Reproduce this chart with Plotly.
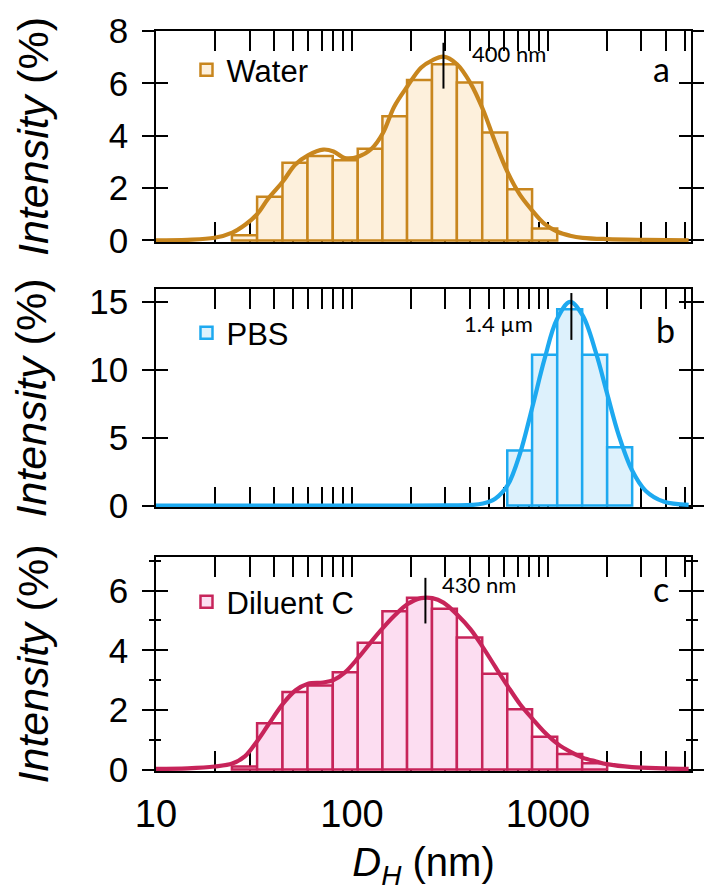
import math
import plotly.graph_objects as go

# ---------------- data ----------------
water_edges = [24.4, 32.8, 44.2, 59.3, 79.8, 107, 143, 191, 256, 343, 462, 620, 830, 1115]
water_heights = [0.2, 1.67, 2.97, 3.22, 3.06, 3.5, 4.74, 6.13, 6.73, 6.03, 4.12, 1.95, 0.45]

pbs_edges = [620, 830, 1115, 1495, 2005, 2690]
pbs_heights = [4.05, 11.1, 14.45, 11.1, 4.3]

dil_edges = [24.4, 32.8, 44.2, 59.3, 79.8, 107, 143, 191, 256, 343, 462, 620, 830, 1115, 1495, 2005]
dil_heights = [0.1, 1.55, 2.6, 2.82, 3.26, 4.25, 5.31, 5.76, 5.39, 4.43, 3.21, 2.02, 1.1, 0.52, 0.21]

water_fit_x = [10, 14.5, 19.9, 24.5, 28.5, 32.8, 37.4, 44.4, 51.4, 59.6, 71.3, 80.5, 91.8, 107.7,
               125.9, 143.9, 164, 192.3, 225, 257, 293, 343.6, 403, 466, 538, 623, 719, 834, 961,
               1125, 1297, 1503, 2000, 3148, 5224]
water_fit_y = [0.0, 0.02, 0.1, 0.3, 0.6, 1.0, 1.6, 2.25, 2.9, 3.25, 3.47, 3.4, 3.15, 3.2,
               3.5, 4.1, 5.1, 5.9, 6.6, 6.88, 7.02, 6.73, 6.0, 5.0, 3.75, 2.6, 1.75, 1.13, 0.63,
               0.32, 0.18, 0.1, 0.05, 0.02, 0.0]

pbs_fit_x = [10, 100, 200, 300, 403, 466, 538, 623, 719, 834, 961, 1110, 1297, 1503, 1762, 2000,
             2296, 2686, 3148, 3890, 5224]
pbs_fit_y = [0.0, 0.0, 0.0, 0.01, 0.05, 0.15, 0.5, 1.5, 3.8, 7.3, 10.8, 13.7, 15.0, 14.0, 11.2, 8.3,
             5.2, 2.6, 1.1, 0.3, 0.05]

dil_fit_x = [10, 14.5, 19.9, 24.5, 28.5, 32.8, 37.4, 44.4, 51.4, 59.6, 71.3, 80.5, 91.8, 107.7,
             125.9, 143.9, 164, 192.3, 225, 257, 293, 343.6, 403, 466, 538, 623, 719, 834, 961,
             1125, 1297, 1503, 1762, 2000, 2686, 3890, 5224]
dil_fit_y = [0.02, 0.04, 0.1, 0.2, 0.45, 0.95, 1.5, 2.2, 2.65, 2.88, 2.92, 3.0, 3.25, 3.75,
             4.3, 4.75, 5.15, 5.55, 5.75, 5.75, 5.6, 5.2, 4.7, 4.1, 3.45, 2.8, 2.2, 1.7, 1.25,
             0.85, 0.6, 0.4, 0.27, 0.18, 0.08, 0.04, 0.02]

peak_x = [293, 1317, 237]
peak_y_low = [5.8, 12.2, 4.9]
peak_y_high = [7.55, 15.65, 6.43]
peak_labels = ["400 nm", "1.4 µm", "430 nm"]
peak_label_x = [400, 863, 281]
peak_label_y = [7.15, 13.4, 6.2]
peak_label_anchor = ["left", "right", "left"]

names = ["Water", "PBS", "Diluent C"]
panel_letters = ["a", "b", "c"]
line_colors = ["#C8861E", "#1DA9F0", "#C7245A"]
fill_colors = ["#FDF0DC", "#DDF1FC", "#FCDDF1"]

x_tickvals = [10, 100, 1000]
x_ticktext = ["10", "100", "1000"]
x_minor = [20, 30, 40, 50, 60, 70, 80, 90, 200, 300, 400, 500, 600, 700, 800, 900,
           2000, 3000, 4000, 5000]

y_ranges = [[-0.06, 8.0], [-0.1, 15.95], [-0.05, 7.13]]
y_dticks = [2, 5, 2]
y_minor = [None, None, 1]

# ---------------- figure ----------------
W, H = 704, 892
ML, MR, MT, MB = 156, 13, 31, 121
domains = [[0.7149, 1.0], [0.3568, 0.6514], [0.0, 0.2892]]

all_edges = [water_edges, pbs_edges, dil_edges]
all_heights = [water_heights, pbs_heights, dil_heights]
all_fx = [water_fit_x, pbs_fit_x, dil_fit_x]
all_fy = [water_fit_y, pbs_fit_y, dil_fit_y]

fig = go.Figure()
TICKF = "Liberation Sans, Arial, Helvetica, sans-serif"
GILL = "Lato, Open Sans, sans-serif"

legend_names = ["legend", "legend2", "legend3"]
legend_y = [0.9473, 0.5919, 0.2284]
letter_x = [0.944, 0.953, 0.944]
letter_y = [0.82, 0.812, 0.855]

for i in range(3):
    xa = "x" if i == 0 else f"x{i+1}"
    ya = "y" if i == 0 else f"y{i+1}"
    yo = f"y{i+4}"
    edges = all_edges[i]
    lo = edges[:-1]
    widths = [edges[k + 1] - edges[k] for k in range(len(edges) - 1)]
    fig.add_trace(go.Bar(
        x=lo, y=all_heights[i], width=widths, offset=0,
        marker=dict(color=fill_colors[i], line=dict(color=line_colors[i], width=2.5)),
        name=names[i], legend=legend_names[i], xaxis=xa, yaxis=ya, hoverinfo="skip"))
    fig.add_trace(go.Scatter(
        x=all_fx[i], y=all_fy[i], mode="lines",
        line=dict(color=line_colors[i], width=4.2, shape="spline", smoothing=1.0),
        showlegend=False, xaxis=xa, yaxis=ya, hoverinfo="skip"))
    fig.add_trace(go.Scatter(
        x=[peak_x[i], peak_x[i]], y=[peak_y_low[i], peak_y_high[i]], mode="lines",
        line=dict(color="black", width=2), showlegend=False, xaxis=xa, yaxis=yo, hoverinfo="skip"))
    # annotations on a log axis take log10 positions
    fig.add_annotation(x=math.log10(peak_label_x[i]), y=peak_label_y[i], xref=xa, yref=ya,
                       text=peak_labels[i], showarrow=False, xanchor=peak_label_anchor[i],
                       yanchor="middle", font=dict(family=GILL, size=22, color="black"))
    fig.add_annotation(x=letter_x[i], y=letter_y[i],
                       xref=f"{xa} domain", yref=f"{ya} domain", text=panel_letters[i],
                       showarrow=False, xanchor="center", yanchor="middle",
                       font=dict(family=GILL, size=34, color="black"))

    xaxis = dict(type="log", range=[1, 3.73], domain=[0, 1], anchor=ya, automargin=False,
                 tickvals=x_tickvals, ticktext=x_ticktext,
                 ticks="inside", ticklen=20, tickwidth=2, tickcolor="black",
                 mirror="allticks", showline=True, linecolor="black", linewidth=1.5,
                 showgrid=False, zeroline=False, layer="below traces",
                 minor=dict(tickvals=x_minor, ticks="inside", ticklen=7, tickwidth=2,
                            tickcolor="black", showgrid=False),
                 showticklabels=(i == 2),
                 tickfont=dict(family=TICKF, size=38, color="black"),
                 ticklabelstandoff=9)
    if i > 0:
        xaxis["matches"] = "x"
    if i == 2:
        xaxis["title"] = dict(text="<i>D</i><sub><i>H</i></sub> (nm)", standoff=14,
                              font=dict(family=TICKF, size=40, color="black"))
    yaxis = dict(domain=domains[i], anchor=xa, range=y_ranges[i], dtick=y_dticks[i], tick0=0,
                 automargin=False,
                 ticks="outside", ticklen=12, tickwidth=2, tickcolor="black",
                 mirror="allticks", showline=True, linecolor="black", linewidth=1.5,
                 showgrid=False, zeroline=False, layer="below traces",
                 tickfont=dict(family=TICKF, size=35, color="black"), ticklabelstandoff=7,
                 title=dict(text="<i>Intensity</i> (%)", standoff=[47, 29, 47][i],
                            font=dict(family=TICKF, size=43, color="black")))
    yov = dict(overlaying=ya, anchor=xa, range=y_ranges[i], dtick=y_dticks[i], tick0=0,
               automargin=False,
               ticks="inside", ticklen=12, tickwidth=2, tickcolor="black",
               mirror="allticks", showline=False, showgrid=False, zeroline=False,
               showticklabels=False, layer="below traces", side="left")
    if y_minor[i]:
        yaxis["minor"] = dict(dtick=y_minor[i], ticks="outside", ticklen=5, tickwidth=2,
                              tickcolor="black", showgrid=False)
        yov["minor"] = dict(dtick=y_minor[i], ticks="inside", ticklen=5, tickwidth=2,
                            tickcolor="black", showgrid=False)
    fig.layout["xaxis" if i == 0 else f"xaxis{i+1}"] = xaxis
    fig.layout["yaxis" if i == 0 else f"yaxis{i+1}"] = yaxis
    fig.layout[f"yaxis{i+4}"] = yov
    fig.layout[legend_names[i]] = dict(x=0.057, y=legend_y[i], xanchor="left", yanchor="middle",
                                       bgcolor="rgba(0,0,0,0)", borderwidth=0,
                                       font=dict(family=TICKF, size=31, color="black"))

fig.update_layout(width=W, height=H, margin=dict(l=ML, r=MR, t=MT, b=MB, autoexpand=False),
                  plot_bgcolor="white", paper_bgcolor="white", barmode="overlay",
                  showlegend=True)

fig.write_html("out.html", config={"displayModeBar": False},
               post_script="document.body.style.margin='0';")
